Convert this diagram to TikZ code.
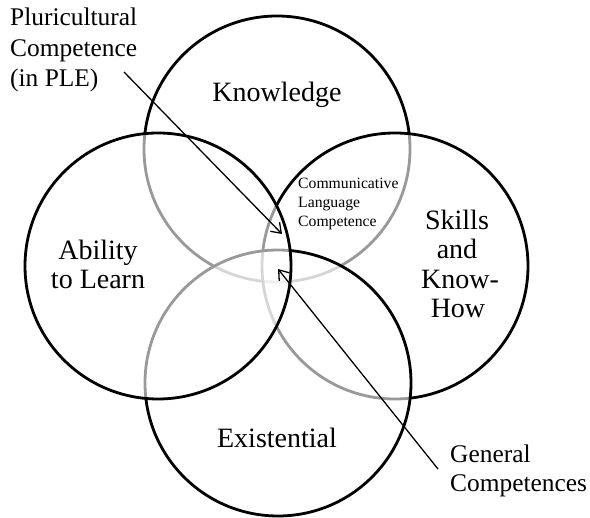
\documentclass[tikz,border=0pt]{standalone}
\usepackage{fontspec}
\setmainfont{Liberation Serif}
\usetikzlibrary{arrows.meta}
\begin{document}
\begin{tikzpicture}[x=1pt,y=-1pt,
  ring/.style={draw=black, line width=2.8pt, fill=white, fill opacity=0.6},
  big/.style={font=\fontsize{28}{30}\selectfont, inner sep=0pt, anchor=base},
  side/.style={font=\fontsize{25.4}{30}\selectfont, inner sep=0pt, anchor=base west},
  small/.style={font=\fontsize{15.7}{18}\selectfont, inner sep=0pt, anchor=base west},
  pointer/.style={line width=1.3pt, -{Straight Barb[length=9pt,width=13pt]}}]
\useasboundingbox (0,0) rectangle (590,518);
% circles, in stacking order
\draw[ring] (277,149) circle[radius=133];
\draw[ring] (395,266) circle[radius=133];
\draw[ring] (278,383) circle[radius=133];
\draw[ring] (158,266) circle[radius=133];
% arrows
\coordinate (p1s) at (124,72);
\coordinate (p1e) at (282,234);
\coordinate (p2s) at (438,469);
\coordinate (p2e) at (278,269);
\draw[pointer] (p1s) -- (p1e);
\draw[pointer] (p2s) -- (p2e);
% labels
\node[big] (know) at (277,102) {Knowledge};
\node[big] (abil1) at (98,260) {Ability};
\node[big] (abil2) at (98,289) {to Learn};
\node[big] (sk1) at (457,230) {Skills};
\node[big] (sk2) at (457,259) {and};
\node[big] (sk3) at (460,289) {Know-};
\node[big] (sk4) at (458,318) {How};
\node[big] (exis) at (277,448) {Existential};
\node[side] (pl1) at (10,26) {Pluricultural};
\node[side] (pl2) at (10,56.5) {Competence};
\node[side] (pl3) at (10,87) {(in PLE)};
\node[side] (gc1) at (450,463) {General};
\node[side] (gc2) at (450,492) {Competences};
\node[small] (cl1) at (298,189) {Communicative};
\node[small] (cl2) at (298,208) {Language};
\node[small] (cl3) at (298,227) {Competence};
\end{tikzpicture}
\end{document}
